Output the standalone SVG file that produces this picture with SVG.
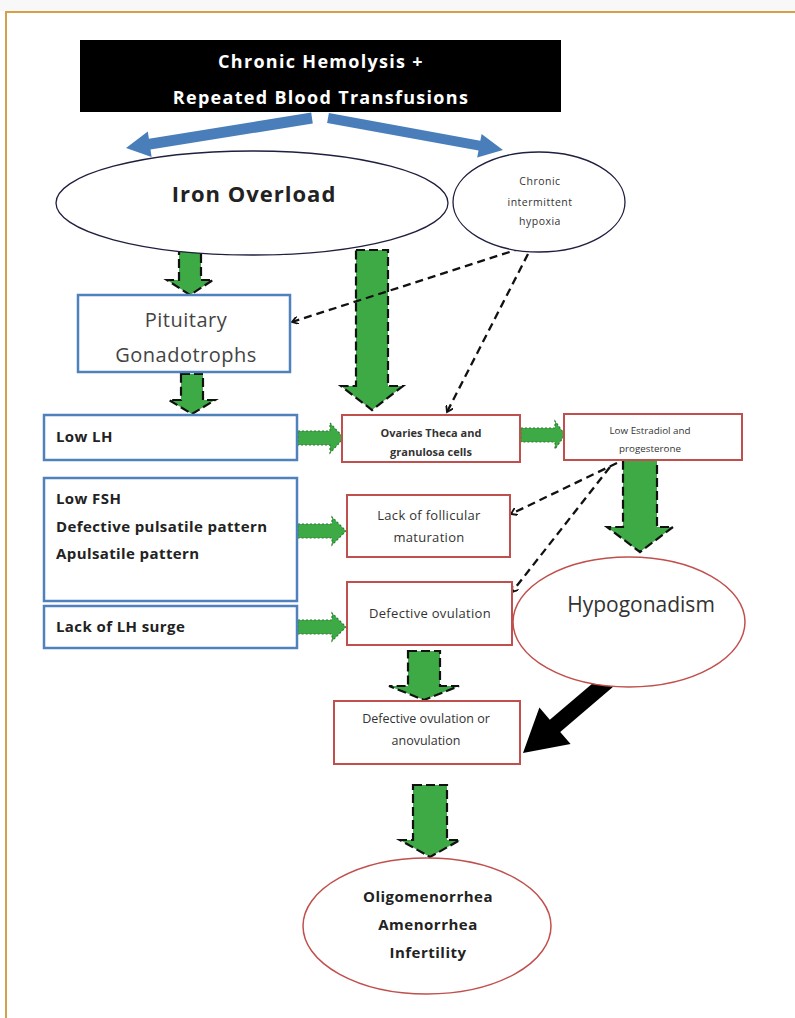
<svg xmlns="http://www.w3.org/2000/svg" width="795" height="1018" viewBox="0 0 795 1018">
<defs>
<style>
text{font-family:"Open Sans","Noto Sans","Liberation Sans",sans-serif;text-anchor:middle;}
.blue{fill:#fff;stroke:#4F81BD;stroke-width:2.5;}
.red{fill:#fff;stroke:#C0504D;stroke-width:2;}
.ell{fill:#fff;stroke:#1F1F3F;stroke-width:1.3;}
.ellr{fill:#fff;stroke:#C0504D;stroke-width:1.5;}
.garrow{fill:#3EAA45;stroke:#111;stroke-width:2.2;stroke-dasharray:9 4;}
.harrow{fill:#3EAA45;stroke:#2E7D32;stroke-width:1.2;stroke-dasharray:2 2;}
.dash{fill:none;stroke:#111;stroke-width:2.3;stroke-dasharray:8 5;}
.bl{font-weight:bold;fill:#222;text-anchor:start;font-size:15px;letter-spacing:0.4px;}
.sm{fill:#333;}
</style>
<marker id="tick" markerWidth="8" markerHeight="8" refX="6" refY="4" orient="auto" markerUnits="userSpaceOnUse">
<path d="M0,0 L6,4 L0,8" fill="none" stroke="#111" stroke-width="1.8"/>
</marker>
</defs>
<rect width="795" height="1018" fill="#fff"/>
<rect width="795" height="11" fill="#f8f8f8"/>
<path d="M6,1018 L6,12 L795,12" fill="none" stroke="#D4A04A" stroke-width="2"/>

<g id="connectors">
<polygon fill="#4A7EBB" points="327.1,122.9 478.5,150.6 477.2,157.5 503,150 481.6,133.9 480.3,140.8 328.9,113.1"/>
<polygon fill="#4A7EBB" points="311.2,112.6 148.9,138.8 147.8,131.4 126,148 151.6,157 150.5,149.6 312.8,123.4"/>
<polygon class="garrow" points="179,250 201,250 201,280 213,280 190,295 167,280 179,280"/>
<polygon class="garrow" points="181,374 203,374 203,400 215,400 192,414 169,400 181,400"/>
<polygon class="garrow" points="356,250 388,250 388,386 403,386 372,410 341,386 356,386"/>
<polygon class="garrow" points="623,460 657,460 657,527 673,527 640,552 607,527 623,527"/>
<polygon class="garrow" points="408,651 440,651 440,686 459,686 424,700 389,686 408,686"/>
<polygon class="garrow" points="413,785 447,785 447,840 460,840 430,857 400,840 413,840"/>
<polygon class="harrow" points="298,431 330,431 330,423 344,438 330,453 330,445 298,445"/>
<polygon class="harrow" points="521,428 555,428 555,421 565,435 555,449 555,442 521,442"/>
<polygon class="harrow" points="298,524 332,524 332,517 346,531 332,545 332,538 298,538"/>
<polygon class="harrow" points="298,620 332,620 332,613 346,627 332,641 332,634 298,634"/>
<polygon fill="#000" points="604.8,672.9 549.8,719.7 539.4,707.5 523,753 570.6,744.1 560.2,731.9 615.2,685.1"/>
<line class="dash" x1="522" y1="248" x2="292" y2="322" marker-end="url(#tick)"/>
<line class="dash" x1="528" y1="254" x2="447" y2="412" marker-end="url(#tick)"/>
<line class="dash" x1="617" y1="463" x2="511" y2="514" marker-end="url(#tick)"/>
<line class="dash" x1="610" y1="467" x2="512" y2="592" marker-end="url(#tick)"/>
</g>

<g id="top">
<rect x="80" y="40" width="481" height="72" fill="#000"/>
<text x="321" y="68" font-size="18" font-weight="bold" fill="#fff" letter-spacing="1.3">Chronic Hemolysis +</text>
<text x="321" y="104" font-size="18" font-weight="bold" fill="#fff" letter-spacing="1.3">Repeated Blood Transfusions</text>
</g>

<g id="iron">
<ellipse class="ell" cx="252" cy="203" rx="196" ry="52"/>
<text x="254" y="202" font-size="22" font-weight="bold" fill="#222" letter-spacing="1">Iron Overload</text>
</g>

<g id="hypoxia">
<ellipse class="ell" cx="539" cy="202" rx="86" ry="50"/>
<text x="540" y="185" font-size="10.5" class="sm" letter-spacing="0.5">Chronic</text>
<text x="540" y="206" font-size="10.5" class="sm" letter-spacing="0.5">intermittent</text>
<text x="540" y="225" font-size="10.5" class="sm" letter-spacing="0.5">hypoxia</text>
</g>

<g id="pituitary">
<rect class="blue" x="78" y="295" width="212" height="77"/>
<text x="186" y="327" font-size="20" fill="#444" letter-spacing="0.5">Pituitary</text>
<text x="186" y="362" font-size="20" fill="#444" letter-spacing="0.5">Gonadotrophs</text>
</g>

<g id="lowlh">
<rect class="blue" x="44" y="415" width="253" height="45"/>
<text class="bl" x="56" y="442">Low LH</text>
</g>

<g id="lowfsh">
<rect class="blue" x="44" y="478" width="253" height="123"/>
<text class="bl" x="56" y="504">Low FSH</text>
<text class="bl" x="56" y="532">Defective pulsatile pattern</text>
<text class="bl" x="56" y="559">Apulsatile pattern</text>
</g>

<g id="lhsurge">
<rect class="blue" x="44" y="606" width="253" height="42"/>
<text class="bl" x="56" y="632">Lack of LH surge</text>
</g>

<g id="ovaries">
<rect class="red" x="342" y="415" width="178" height="47"/>
<text x="431" y="437" font-size="11" class="sm" font-weight="bold">Ovaries Theca and</text>
<text x="431" y="456" font-size="11" class="sm" font-weight="bold">granulosa cells</text>
</g>

<g id="estradiol">
<rect class="red" x="564" y="414" width="178" height="46"/>
<text x="650" y="434" font-size="9.8" class="sm">Low Estradiol and</text>
<text x="650" y="452" font-size="9.8" class="sm">progesterone</text>
</g>

<g id="follicular">
<rect class="red" x="347" y="495" width="163" height="62"/>
<text x="429" y="520" font-size="13" class="sm" letter-spacing="0.3">Lack of follicular</text>
<text x="429" y="542" font-size="13" class="sm" letter-spacing="0.3">maturation</text>
</g>

<g id="defovul">
<rect class="red" x="347" y="582" width="165" height="63"/>
<text x="430" y="618" font-size="13" class="sm" letter-spacing="0.3">Defective ovulation</text>
</g>

<g id="hypogonadism">
<ellipse class="ellr" cx="629" cy="622" rx="116" ry="65"/>
<text x="641" y="612" font-size="21" fill="#333">Hypogonadism</text>
</g>

<g id="anovulation">
<rect class="red" x="334" y="701" width="186" height="63"/>
<text x="426" y="723" font-size="12.5" class="sm">Defective ovulation or</text>
<text x="426" y="745" font-size="12.5" class="sm">anovulation</text>
</g>

<g id="outcome">
<ellipse class="ellr" cx="427" cy="926" rx="124" ry="68"/>
<text x="428" y="902" font-size="15" font-weight="bold" fill="#222" letter-spacing="0.5">Oligomenorrhea</text>
<text x="428" y="930" font-size="15" font-weight="bold" fill="#222" letter-spacing="0.5">Amenorrhea</text>
<text x="428" y="958" font-size="15" font-weight="bold" fill="#222" letter-spacing="0.5">Infertility</text>
</g>
</svg>
